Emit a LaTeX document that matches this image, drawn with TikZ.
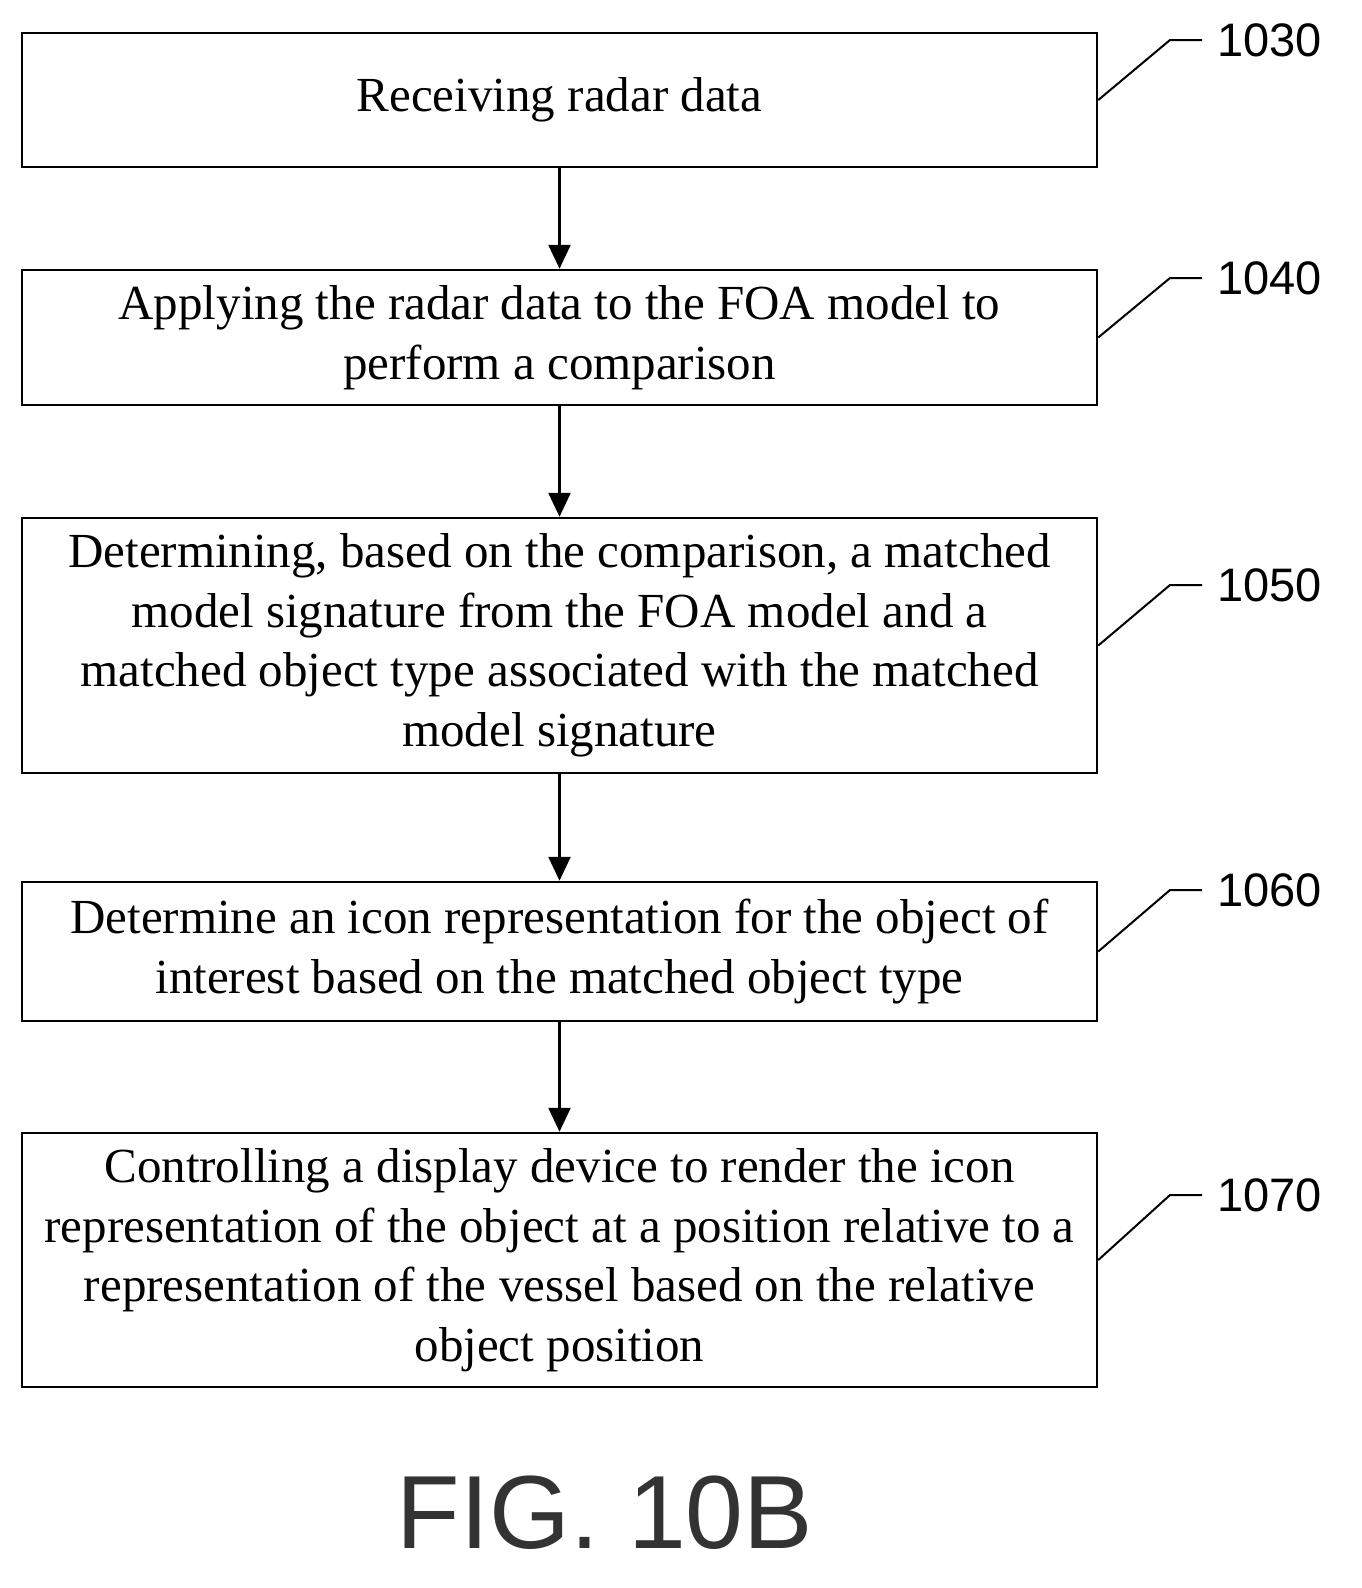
\documentclass[tikz,border=0pt]{standalone}
\usepackage{fontspec}
\setmainfont{Liberation Serif}
\newfontfamily\labfont{Liberation Sans}
\usetikzlibrary{arrows.meta}
\begin{document}
\begin{tikzpicture}[x=1pt,y=-1pt,
 box/.style={draw,line width=2.5pt,minimum width=1075pt,align=center,inner sep=0pt,font=\fontsize{49}{59.5}\selectfont},
 arr/.style={line width=2.5pt,-{Triangle[length=24pt,width=22pt]}},
 lead/.style={line width=2pt},
 lab/.style={font=\labfont\fontsize{47}{50}\selectfont}]
\useasboundingbox (0,0) rectangle (1362,1588);
\node[box,minimum height=134pt] (b1) at (559.5,100) {Receiving radar data};
\node[box,minimum height=135pt] (b2) at (559.5,337.5) {Applying the radar data to the FOA model to\\perform a comparison};
\node[box,minimum height=255pt] (b3) at (559.5,645.5) {Determining, based on the comparison, a matched\\model signature from the FOA model and a\\matched object type associated with the matched\\model signature};
\node[box,minimum height=139pt] (b4) at (559.5,951.5) {Determine an icon representation for the object of\\interest based on the matched object type};
\node[box,minimum height=254pt] (b5) at (559.5,1260) {Controlling a display device to render the icon\\representation of the object at a position relative to a\\representation of the vessel based on the relative\\object position};
\draw[arr] (b1.south) -- (b2.north);
\draw[arr] (b2.south) -- (b3.north);
\draw[arr] (b3.south) -- (b4.north);
\draw[arr] (b4.south) -- (b5.north);
\foreach \b/\t/\y in {b1/1030/40,b2/1040/278,b3/1050/585,b4/1060/890,b5/1070/1195}{
 \coordinate (k\b) at (1170,\y);
 \coordinate (e\b) at (1202,\y);
 \draw[lead] (\b.east) -- (k\b) -- (e\b);
 \node[lab,anchor=west] (l\b) at (1214,\y) {\t};
}
\node[font=\labfont\fontsize{104}{110}\selectfont,text=black!80] (fig) at (605,1513) {FIG. 10B};
\end{tikzpicture}
\end{document}
